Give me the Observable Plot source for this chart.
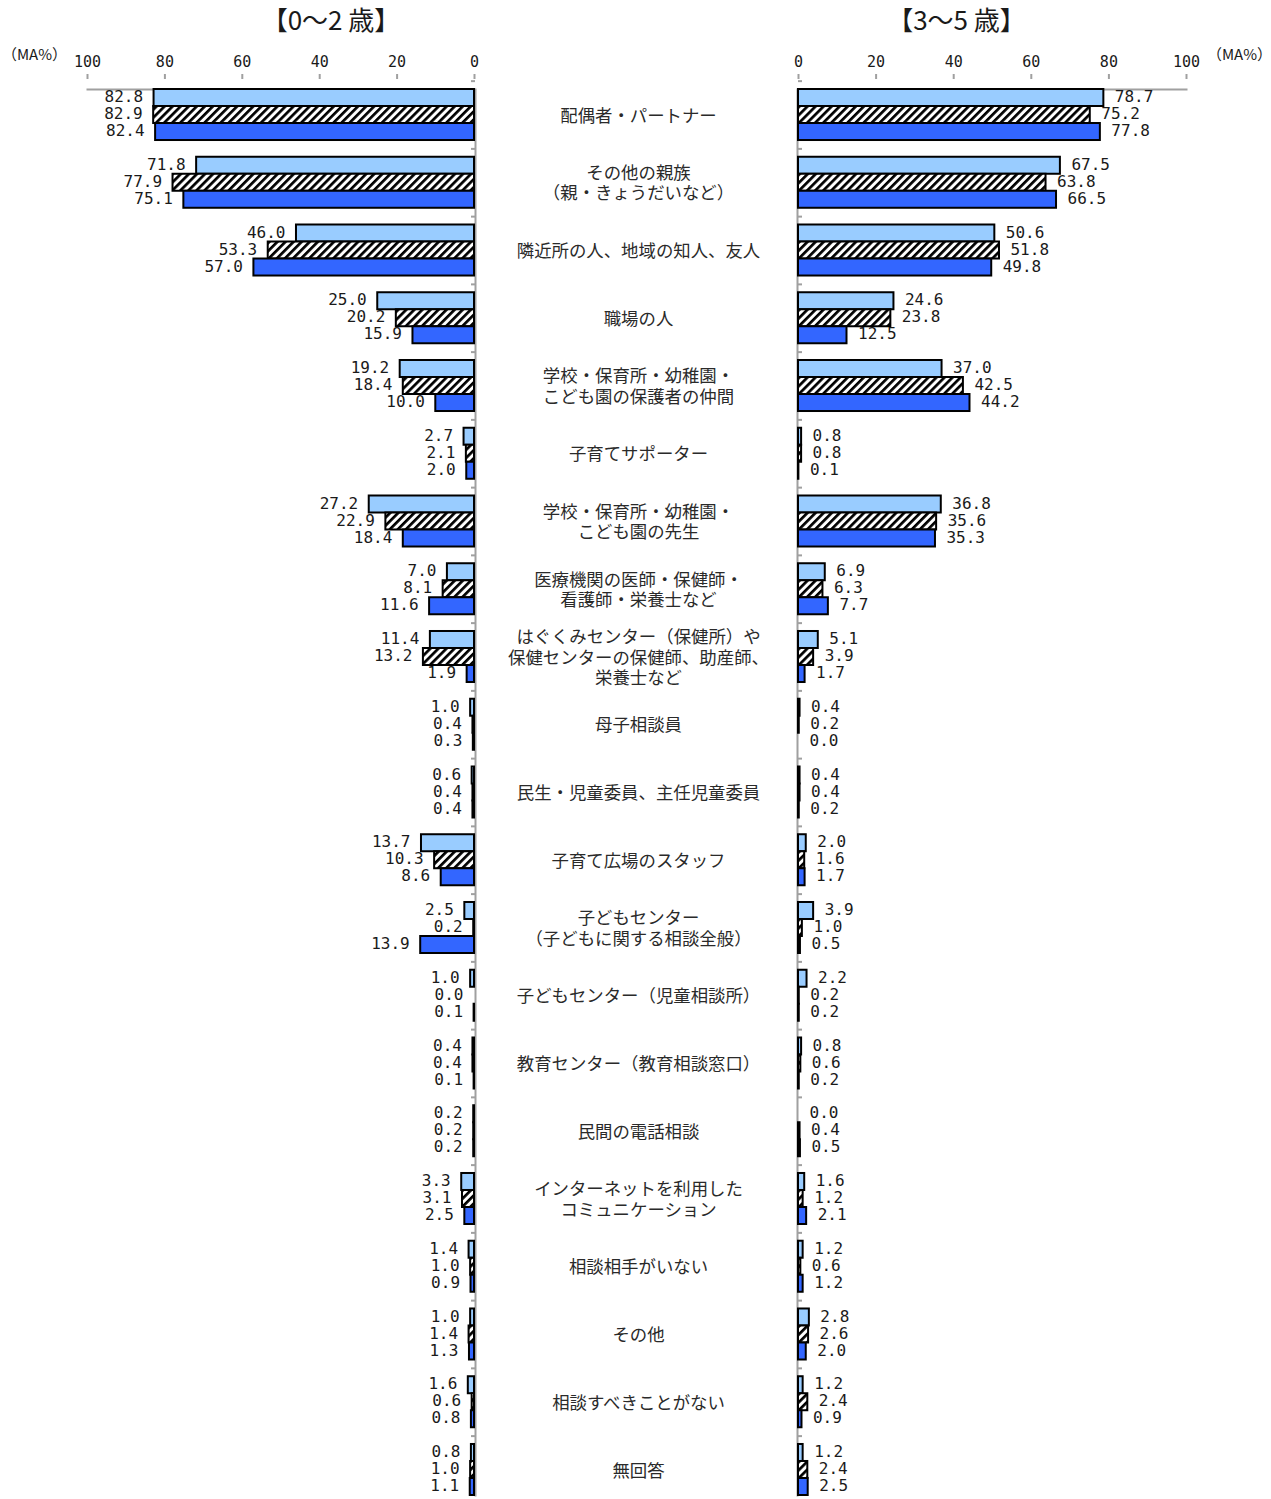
<!DOCTYPE html>
<html><head><meta charset="utf-8">
<script src="https://cdn.jsdelivr.net/npm/d3@7"></script>
<script src="https://cdn.jsdelivr.net/npm/@observablehq/plot@0.6"></script>
<style>
html,body{margin:0;padding:0;background:#fff;overflow:hidden}
#chart{position:relative;width:1271px;height:1499px;overflow:hidden;background:#fff}
#chart svg{position:absolute;top:0}
</style></head><body><div id="chart"></div>
<script>
const categories = [
  "配偶者・パートナー",
  "その他の親族\n（親・きょうだいなど）",
  "隣近所の人、地域の知人、友人",
  "職場の人",
  "学校・保育所・幼稚園・\nこども園の保護者の仲間",
  "子育てサポーター",
  "学校・保育所・幼稚園・\nこども園の先生",
  "医療機関の医師・保健師・\n看護師・栄養士など",
  "はぐくみセンター（保健所）や\n保健センターの保健師、助産師、\n栄養士など",
  "母子相談員",
  "民生・児童委員、主任児童委員",
  "子育て広場のスタッフ",
  "子どもセンター\n（子どもに関する相談全般）",
  "子どもセンター（児童相談所）",
  "教育センター（教育相談窓口）",
  "民間の電話相談",
  "インターネットを利用した\nコミュニケーション",
  "相談相手がいない",
  "その他",
  "相談すべきことがない",
  "無回答"
];
const seriesNames = ["系列1", "系列2", "系列3"];
const panelTitles = ["【0～2 歳】", "【3～5 歳】"];
const unitLabel = "（MA%）";
const xTicks = [0, 20, 40, 60, 80, 100];

// 0～2歳
const age02_s1 = [82.8, 71.8, 46.0, 25.0, 19.2, 2.7, 27.2, 7.0, 11.4, 1.0, 0.6, 13.7, 2.5, 1.0, 0.4, 0.2, 3.3, 1.4, 1.0, 1.6, 0.8];
const age02_s2 = [82.9, 77.9, 53.3, 20.2, 18.4, 2.1, 22.9, 8.1, 13.2, 0.4, 0.4, 10.3, 0.2, 0.0, 0.4, 0.2, 3.1, 1.0, 1.4, 0.6, 1.0];
const age02_s3 = [82.4, 75.1, 57.0, 15.9, 10.0, 2.0, 18.4, 11.6, 1.9, 0.3, 0.4, 8.6, 13.9, 0.1, 0.1, 0.2, 2.5, 0.9, 1.3, 0.8, 1.1];
// 3～5歳
const age35_s1 = [78.7, 67.5, 50.6, 24.6, 37.0, 0.8, 36.8, 6.9, 5.1, 0.4, 0.4, 2.0, 3.9, 2.2, 0.8, 0.0, 1.6, 1.2, 2.8, 1.2, 1.2];
const age35_s2 = [75.2, 63.8, 51.8, 23.8, 42.5, 0.8, 35.6, 6.3, 3.9, 0.2, 0.4, 1.6, 1.0, 0.2, 0.6, 0.4, 1.2, 0.6, 2.6, 2.4, 2.4];
const age35_s3 = [77.8, 66.5, 49.8, 12.5, 44.2, 0.1, 35.3, 7.7, 1.7, 0.0, 0.2, 1.7, 0.5, 0.2, 0.2, 0.5, 2.1, 1.2, 2.0, 0.9, 2.5];

function toRows(seriesArrays) {
  return categories.flatMap((c, i) => seriesNames.map((s, j) => ({cat: c, series: s, value: seriesArrays[j][i]})));
}
const data02 = toRows([age02_s1, age02_s2, age02_s3]);
const data35 = toRows([age35_s1, age35_s2, age35_s3]);

// row band: step 67.75, bars fill 51px of each row, axis line at the frame top
const MT = 78, MB = 10, H = 1516;
const rowScale = {domain: categories, paddingInner: 0.247, paddingOuter: 0.1624, round: false};
const numFont = "DejaVu Sans Mono";
const jpFont = "Noto Sans CJK JP";
const axisGray = "#a0a0a0";
const textColor = "#1a1a1a";

function addHatch(svg, id) {
  const ns = "http://www.w3.org/2000/svg";
  const defs = document.createElementNS(ns, "defs");
  defs.innerHTML = `<pattern id="${id}" patternUnits="userSpaceOnUse" width="5.7" height="5.7" patternTransform="rotate(45)">
    <rect width="5.7" height="5.7" fill="#fff"/><rect width="2.7" height="5.7" fill="#000"/></pattern>`;
  svg.insertBefore(defs, svg.firstChild);
}

function panel({data, reverse, width, marginLeft, marginRight, hatchId, title, titleDx, unitAnchor, unitDx, labelAnchor, labelDx, zeroSide, fyDx}) {
  const svg = Plot.plot({
    width, height: H, marginTop: MT, marginBottom: MB, marginLeft, marginRight,
    style: {background: "transparent", fontFamily: numFont, fontSize: "15px", color: textColor},
    x: {domain: [0, 100], reverse},
    fy: {...rowScale, axis: null},
    y: {domain: seriesNames, padding: 0, round: false, axis: null},
    color: {domain: seriesNames, range: ["#99ccff", `url(#${hatchId})`, "#3366ff"]},
    marks: [
      Plot.frame({anchor: "top", facet: "super", stroke: axisGray, strokeWidth: 2}),
      Plot.frame({anchor: zeroSide, facet: "super", stroke: axisGray, strokeWidth: 2, dx: zeroSide === "right" ? 1 : -1}),
      Plot.axisX({anchor: "top", ticks: xTicks, tickSize: 5, tickPadding: 7, dy: -11, stroke: axisGray, strokeWidth: 2, fill: textColor, label: null, fontSize: 15}),
      Plot.axisFy({anchor: zeroSide, tickSize: 4, dx: fyDx, dy: -33.875, tickFormat: () => "", label: null, stroke: axisGray, strokeWidth: 2}),
      Plot.barX(data, {fy: "cat", y: "series", x: "value", fill: "series", stroke: "#000", strokeWidth: 2}),
      Plot.text(data, {fy: "cat", y: "series", x: "value", text: d => d.value.toFixed(1), textAnchor: labelAnchor, dx: labelDx, dy: -1, fontFamily: numFont, fontSize: 16, fill: textColor}),
      Plot.text([title], {facet: "super", frameAnchor: "top", textAnchor: "middle", lineAnchor: "middle", dx: titleDx, dy: -68, fontSize: 26, fontFamily: jpFont, fill: textColor}),
      Plot.text([unitLabel], {facet: "super", frameAnchor: unitAnchor, textAnchor: "middle", lineAnchor: "middle", dx: unitDx, dy: -34, fontSize: 15, fontFamily: jpFont, fill: textColor})
    ]
  });
  addHatch(svg, hatchId);
  return svg;
}

const left = panel({data: data02, reverse: true, width: 490, marginLeft: 87, marginRight: 16, hatchId: "hatch02",
  title: panelTitles[0], titleDx: 50, unitAnchor: "top-left", unitDx: -53, labelAnchor: "end", labelDx: -11, zeroSide: "right", fyDx: -4});
left.style.left = "0px";

const middle = Plot.plot({
  width: 296, height: H, marginTop: MT, marginBottom: MB, marginLeft: 0, marginRight: 0,
  style: {background: "transparent"},
  y: {type: "band", ...rowScale, axis: null},
  marks: [
    Plot.text(categories, {y: d => d, text: d => d, frameAnchor: "middle", fontSize: 17.4, fontFamily: jpFont, lineHeight: 1.17, fill: "#2a2a2a"})
  ]
});
middle.style.left = "490px";

const right = panel({data: data35, reverse: false, width: 491, marginLeft: 18, marginRight: 85, hatchId: "hatch35",
  title: panelTitles[1], titleDx: -36, unitAnchor: "top-right", unitDx: 53, labelAnchor: "start", labelDx: 11, zeroSide: "left", fyDx: 4});
right.style.left = "780px";

const chart = document.getElementById("chart");
chart.appendChild(left);
chart.appendChild(middle);
chart.appendChild(right);
</script></body></html>
